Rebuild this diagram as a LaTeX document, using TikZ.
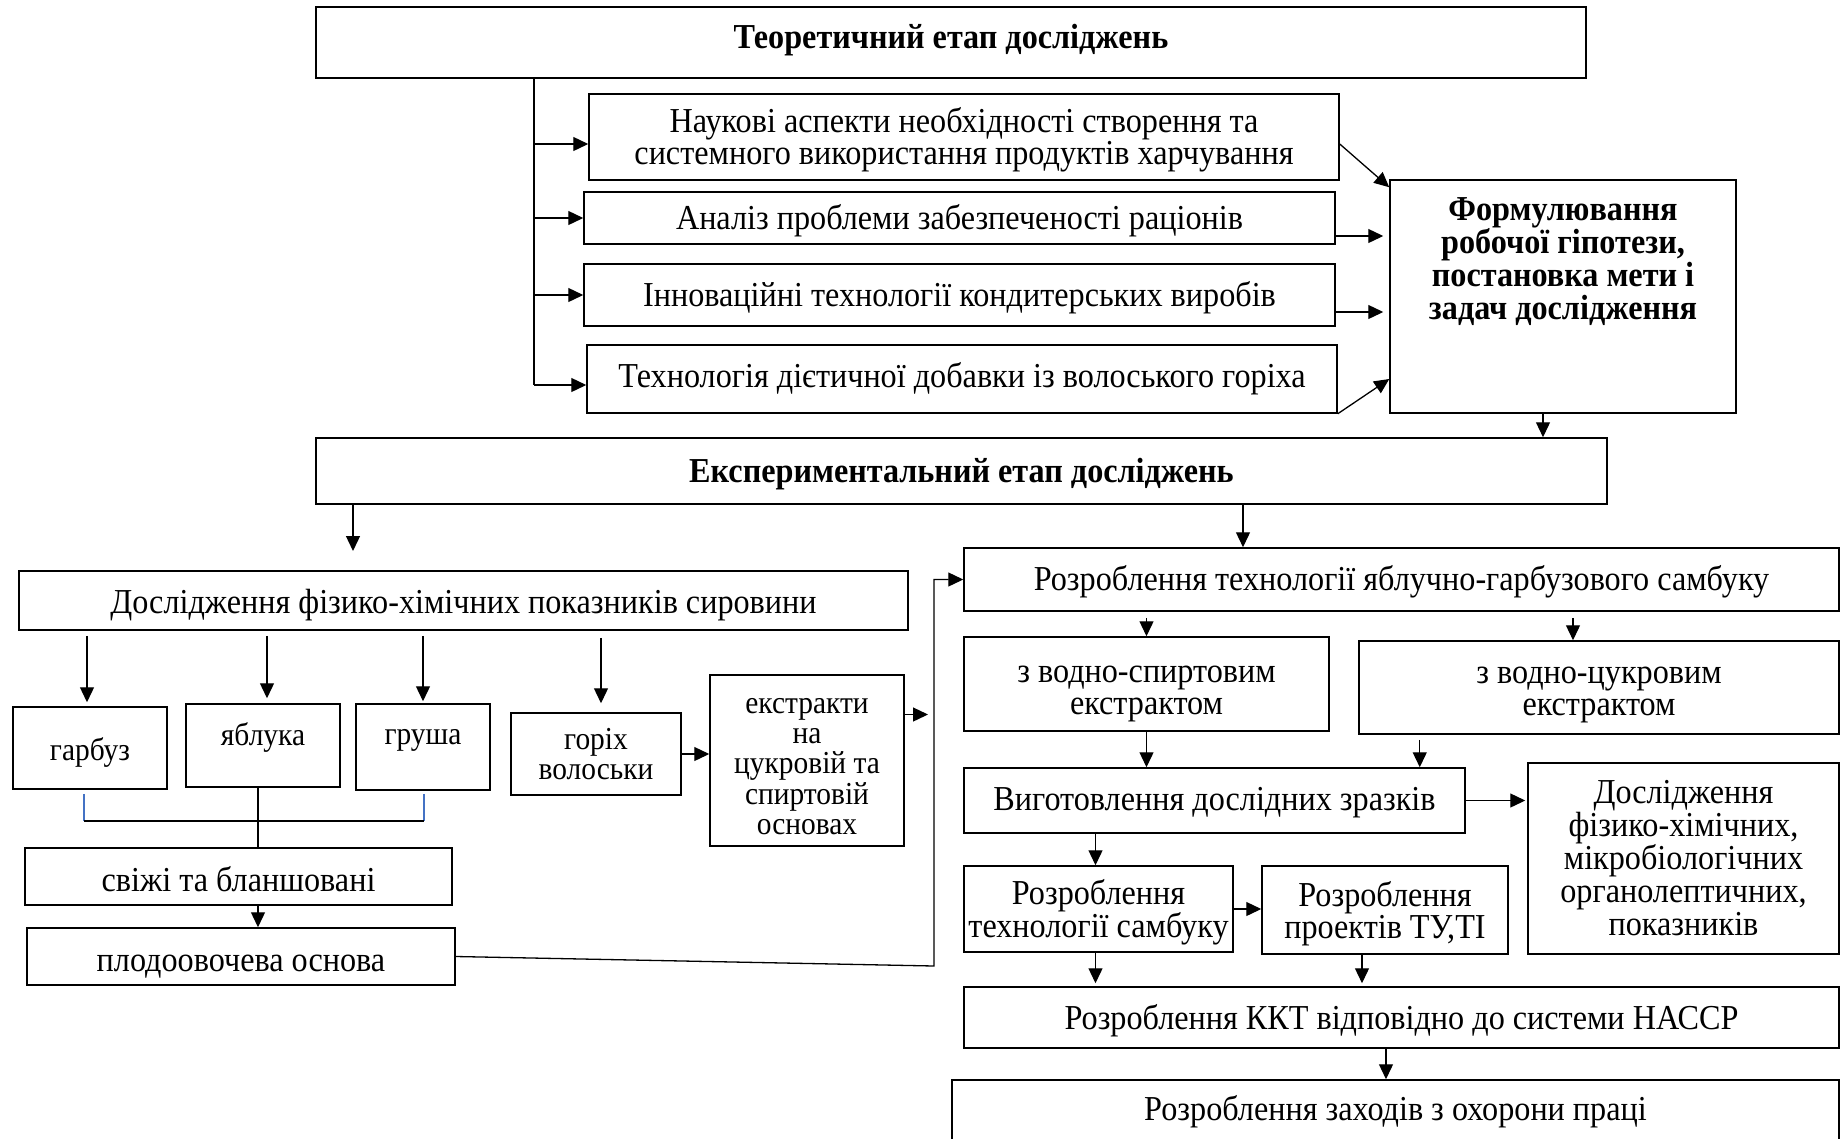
\documentclass[tikz,border=0pt]{standalone}
\usepackage{fontspec}
\setmainfont{Liberation Serif}[FakeStretch=0.92]
\usetikzlibrary{arrows.meta, positioning}
\definecolor{wordblue}{RGB}{68,114,196}
\tikzstyle{box} = [rectangle, draw=black, line width=1.5pt, align=center, inner sep=2pt, font=\fontsize{35pt}{32pt}\selectfont]
\tikzstyle{sbox} = [box, font=\fontsize{32pt}{30pt}\selectfont]
\tikzstyle{bbox} = [box, font=\fontsize{35pt}{30pt}\selectfont\bfseries]
\tikzstyle{line} = [line width=1.3pt]
\tikzstyle{arrow} = [line, -{Triangle[length=15pt,width=14pt]}]
\tikzstyle{bline} = [line, draw=wordblue]

\begin{document}
\begin{tikzpicture}[x=1pt, y=-1pt]
\useasboundingbox (0,0) rectangle (1847,1138);

% Theoretical stage
\node[bbox, minimum width=1270pt, minimum height=71pt] (theor) at (951,42.5) {Теоретичний етап досліджень\rule[-13pt]{0pt}{1pt}};
\node[box, minimum width=750pt, minimum height=86pt] (nauk) at (964,137) {\rule{0pt}{31pt}Наукові аспекти необхідності створення та\\системного використання продуктів харчування};
\node[box, minimum width=751pt, minimum height=52pt] (analiz) at (959.5,218) {\rule{0pt}{30pt}Аналіз проблеми забезпеченості раціонів};
\node[box, minimum width=751pt, minimum height=62pt] (innov) at (959.5,295) {\rule{0pt}{30pt}Інноваційні технології кондитерських виробів};
\node[box, minimum width=750pt, minimum height=68pt] (dobavka) at (962,379) {Технологія дієтичної добавки із волоського горіха};
\node[bbox, minimum width=346pt, minimum height=233pt, font=\fontsize{35pt}{33.3pt}\selectfont\bfseries] (hyp) at (1563,296.5) {Формулювання\\робочої гіпотези,\\постановка мети і\\задач дослідження\rule[-76pt]{0pt}{1pt}};

% links to the sub-tasks
\coordinate (tx) at (534,0);
\coordinate (n1) at ([yshift=-7pt]nauk.west);
\coordinate (d1) at ([yshift=-6pt]dobavka.west);
\draw[line] (theor.south -| tx) -- (tx |- d1);
\draw[arrow] (tx |- n1) -- (n1);
\draw[arrow] (tx |- analiz) -- (analiz.west);
\draw[arrow] (tx |- innov) -- (innov.west);
\draw[arrow] (tx |- d1) -- (d1);

% links to the hypothesis
\coordinate (n2) at ([yshift=-7pt]nauk.east);
\coordinate (h1) at ([yshift=-8pt]hyp.north west);
\draw[arrow] (n2) -- (h1);
\coordinate (a2) at ([yshift=-18pt]analiz.east);
\draw[arrow, shorten >=6pt] (a2) -- (hyp.west |- a2);
\coordinate (i2) at ([yshift=-17pt]innov.east);
\draw[arrow, shorten >=6pt] (i2) -- (hyp.west |- i2);
\draw[arrow] (dobavka.south east) -- (hyp.west |- dobavka.east);

% Experimental stage
\node[bbox, minimum width=1291pt, minimum height=66pt] (exp) at (961.5,471) {\rule{0pt}{30pt}Експериментальний етап досліджень};
\coordinate (h2) at ([xshift=-20pt]hyp.south);
\draw[arrow] (h2) -- (h2 |- exp.north);

% raw material
\node[box, minimum width=889pt, minimum height=59pt] (doslS) at (463.5,600.5) {\rule{0pt}{34pt}Дослідження фізико-хімічних показників сировини};
\coordinate (e1) at (353,551);
\draw[arrow] (exp.south -| e1) -- (e1);

\node[sbox, minimum width=154pt, minimum height=82pt] (garbuz) at (90,748) {\rule{0pt}{31pt}гарбуз};
\node[sbox, minimum width=154pt, minimum height=83pt] (yabluka) at (263,745.5) {яблука\rule[-23pt]{0pt}{1pt}};
\node[sbox, minimum width=134pt, minimum height=86pt] (grusha) at (423,747) {груша\rule[-20pt]{0pt}{1pt}};
\node[sbox, minimum width=170pt, minimum height=82pt] (gorikh) at (596,754) {горіх\\волоськи};
\node[sbox, minimum width=194pt, minimum height=171pt, font=\fontsize{32pt}{30.3pt}\selectfont] (ekstr) at (807,760.5) {\rule{0pt}{27pt}екстракти\\на\\цукровій та\\спиртовій\\основах};

\coordinate (g1) at ([xshift=-3pt]garbuz.north);
\coordinate (y1) at ([xshift=4pt]yabluka.north);
\coordinate (r1) at (grusha.north);
\coordinate (o1) at ([xshift=5pt]gorikh.north);
\draw[arrow, shorten <=5pt, shorten >=4pt] (doslS.south -| g1) -- (g1);
\draw[arrow, shorten <=5pt, shorten >=5pt] (doslS.south -| y1) -- (y1);
\draw[arrow, shorten <=5pt, shorten >=2pt] (doslS.south -| r1) -- (r1);
\draw[arrow, shorten <=7pt, shorten >=9pt] (doslS.south -| o1) -- (o1);
\draw[arrow] (gorikh.east) -- (ekstr.west |- gorikh.east);

% fresh and blanched
\node[box, minimum width=427pt, minimum height=57pt] (svizhi) at (238.5,876.5) {\rule{0pt}{31pt}свіжі та бланшовані};
\node[box, minimum width=428pt, minimum height=57pt] (plod) at (241,956.5) {\rule{0pt}{36pt}плодоовочева основа};
\coordinate (jx) at (258,821);
\coordinate (bl) at ([xshift=-6pt,yshift=-4pt]garbuz.south);
\coordinate (br) at ([xshift=1pt,yshift=-3pt]grusha.south);
\draw[bline] (bl) -- (bl |- jx);
\draw[bline] (br) -- (br |- jx);
\draw[line] (bl |- jx) -- (br |- jx);
\draw[line] (yabluka.south -| jx) -- (svizhi.north -| jx);
\draw[arrow] (svizhi.south -| jx) -- (plod.north -| jx);

% Sambuk technology
\node[box, minimum width=875pt, minimum height=63pt] (rozrTech) at (1401.5,579.5) {\rule{0pt}{30pt}Розроблення технології яблучно-гарбузового самбуку};
\coordinate (e2) at (1243,0);
\draw[arrow] (exp.south -| e2) -- (rozrTech.north -| e2);
\coordinate (bend) at (934,966);
\coordinate (k1) at ([yshift=46pt]ekstr.east);
\draw[arrow, shorten >=6pt] (k1) -- (k1 -| bend);
\draw[arrow] (plod.east) -- (bend) |- (rozrTech.west);

\node[box, minimum width=365pt, minimum height=94pt] (vodSp) at (1146.5,684) {\rule{0pt}{36pt}з водно-спиртовим\\екстрактом};
\node[box, minimum width=480pt, minimum height=93pt] (vodTsuk) at (1599,687.5) {\rule{0pt}{31pt}з водно-цукровим\\екстрактом};
\draw[arrow, shorten <=6pt] (rozrTech.south -| vodSp.north) -- (vodSp.north);
\coordinate (v2) at ([xshift=-26pt]vodTsuk.north);
\draw[arrow, shorten <=6pt] (rozrTech.south -| v2) -- (v2);

\node[box, minimum width=501pt, minimum height=65pt] (vygot) at (1214.5,800.5) {\rule{0pt}{28pt}Виготовлення дослідних зразків};
\draw[arrow] (vodSp.south) -- (vygot.north -| vodSp.south);
\coordinate (v3) at ([xshift=-46pt]vygot.north east);
\draw[arrow, shorten <=5pt] (vodTsuk.south -| v3) -- (v3);

\node[box, minimum width=311pt, minimum height=191pt, font=\fontsize{35pt}{33pt}\selectfont] (doslP) at (1683.5,858.5) {Дослідження\\фізико-хімічних,\\мікробіологічних\\органолептичних,\\показників};
\draw[arrow, shorten >=2pt] (vygot.east) -- (doslP.west |- vygot.east);

% documents and HACCP
\node[box, minimum width=269pt, minimum height=86pt] (rozrSamb) at (1098.5,909) {\rule{0pt}{32pt}Розроблення\\технології самбуку};
\node[box, minimum width=246pt, minimum height=88pt] (rozrTU) at (1385,910) {\rule{0pt}{32pt}Розроблення\\проектів ТУ,ТІ};
\coordinate (s1) at ([xshift=-3pt]rozrSamb.north);
\draw[arrow] (vygot.south -| s1) -- (s1);
\draw[arrow] (rozrSamb.east) -- (rozrTU.west |- rozrSamb.east);

\node[box, minimum width=875pt, minimum height=61pt] (kkt) at (1401.5,1017.5) {\rule{0pt}{31pt}Розроблення ККТ відповідно до системи НАССР};
\draw[arrow, shorten >=3pt] (s1 |- rozrSamb.south) -- (s1 |- kkt.north);
\coordinate (u1) at ([xshift=-23pt]rozrTU.south);
\draw[arrow, shorten >=3pt] (u1) -- (u1 |- kkt.north);

\node[box, minimum width=887pt, minimum height=60pt] (okhor) at (1395.5,1110) {\rule{0pt}{28pt}Розроблення заходів з охорони праці};
\coordinate (k2) at (1386,0);
\draw[arrow] (kkt.south -| k2) -- (okhor.north -| k2);

\end{tikzpicture}
\end{document}
